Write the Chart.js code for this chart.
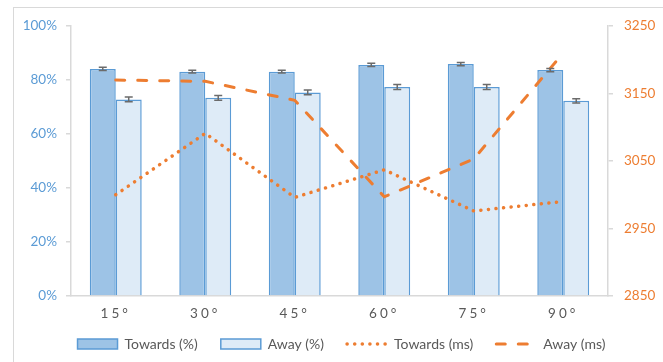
<html>
<head>
<script src="https://cdn.jsdelivr.net/npm/chart.js"></script>
</head>
<body style="margin:0;background:#fff">
<canvas id="myChart" width="663" height="362"></canvas>
<script>
  // angles on the x axis
  let categories = ['15°', '30°', '45°', '60°', '75°', '90°'];

  // percentages (left axis) with error bar half-widths
  let towardsPct = [84.1, 83.1, 83.1, 85.6, 85.9, 83.7];
  let awayPct    = [72.8, 73.4, 75.4, 77.4, 77.4, 72.3];
  let towardsErr = [0.6, 0.5, 0.5, 0.6, 0.6, 0.6];
  let awayErr    = [0.9, 0.9, 0.9, 0.9, 0.9, 0.8];

  // response times (right axis)
  let towardsMs = [3000, 3091, 2996, 3037, 2976, 2990];
  let awayMs    = [3170, 3168, 3140, 2997, 3053, 3210];

  let blue = '#5B9BD5';
  let orange = '#ED7D31';
  let font = {family: 'Lato', size: 13.5};

  // light grey frame around the chart
  const frame = {
    id: 'frame',
    beforeDraw(chart) {
      const ctx = chart.ctx;
      ctx.save();
      ctx.fillStyle = '#fff';
      ctx.fillRect(0, 0, chart.width, chart.height);
      ctx.strokeStyle = '#d9d9d9';
      ctx.lineWidth = 1;
      ctx.strokeRect(13.5, 7.5, 700, 400);
      ctx.restore();

      // spaced out x labels, not clipped to the (short) axis box
      const sx = chart.scales.x;
      if (sx && !sx._spaced) {
        const orig = sx.drawLabels;
        sx.drawLabels = function (area) {
          let b = this.bottom;
          this.bottom = chart.height;
          this.ctx.save();
          this.ctx.letterSpacing = '3px';
          orig.call(this, area);
          this.ctx.restore();
          this.bottom = b;
        };
        sx._spaced = true;
      }
    }
  };

  const errorBars = {
    id: 'errorBars',
    afterDatasetsDraw(chart) {
      const ctx = chart.ctx;
      const y = chart.scales.y;
      [[0, towardsErr], [1, awayErr]].forEach(function (p) {
        let vals = chart.data.datasets[p[0]].data;
        let errs = p[1];
        chart.getDatasetMeta(p[0]).data.forEach(function (bar, j) {
          let top = y.getPixelForValue(vals[j] + errs[j]);
          let bot = y.getPixelForValue(vals[j] - errs[j]);
          ctx.save();
          ctx.strokeStyle = '#6b6b6b';
          ctx.lineWidth = 1.5;
          ctx.beginPath();
          ctx.moveTo(bar.x, top); ctx.lineTo(bar.x, bot);
          ctx.moveTo(bar.x - 4, top); ctx.lineTo(bar.x + 4, top);
          ctx.moveTo(bar.x - 4, bot); ctx.lineTo(bar.x + 4, bot);
          ctx.stroke();
          ctx.restore();
        });
      });
    }
  };

  const ctx = document.getElementById('myChart');
  var chart = new Chart(ctx, {
    data: {
      labels: categories,
      datasets: [
        {
          type: 'bar', label: 'Towards (%)', data: towardsPct, yAxisID: 'y',
          backgroundColor: '#9DC3E6', borderColor: blue, borderWidth: 1.5,
          categoryPercentage: 0.58, barPercentage: 1, order: 2, pointStyle: 'rect'
        },
        {
          type: 'bar', label: 'Away (%)', data: awayPct, yAxisID: 'y',
          backgroundColor: '#DEEBF7', borderColor: blue, borderWidth: 1.5,
          categoryPercentage: 0.58, barPercentage: 1, order: 2, pointStyle: 'rect'
        },
        {
          type: 'line', label: 'Towards (ms)', data: towardsMs, yAxisID: 'y1',
          borderColor: orange, backgroundColor: orange, borderWidth: 3.5,
          borderDash: [0.1, 7.5], borderCapStyle: 'round', pointRadius: 0,
          order: 1, pointStyle: 'line'
        },
        {
          type: 'line', label: 'Away (ms)', data: awayMs, yAxisID: 'y1',
          borderColor: orange, backgroundColor: orange, borderWidth: 3,
          borderDash: [9, 13], borderCapStyle: 'round', pointRadius: 0,
          order: 1, pointStyle: 'line'
        }
      ]
    },
    options: {
      responsive: false,
      animation: false,
      devicePixelRatio: 1,
      layout: {padding: {top: 26, bottom: 1, left: 20, right: 0}},
      plugins: {
        legend: {
          position: 'bottom',
          labels: {
            usePointStyle: true,
            pointStyleWidth: 40,
            boxHeight: 10,
            padding: 23,
            color: '#595959',
            font: {family: 'Lato', size: 14},
            generateLabels: function (chart) {
              return chart.data.datasets.map(function (ds, i) {
                return {
                  text: ds.label,
                  datasetIndex: i,
                  fillStyle: ds.backgroundColor,
                  strokeStyle: ds.borderColor,
                  lineWidth: ds.borderWidth,
                  lineDash: ds.borderDash || [],
                  lineCap: ds.borderCapStyle || 'butt',
                  pointStyle: ds.pointStyle,
                  fontColor: '#595959',
                  hidden: false
                };
              });
            }
          }
        },
        tooltip: {enabled: false}
      },
      scales: {
        x: {
          grid: {display: false},
          border: {display: true, color: '#d9d9d9', width: 1.5},
          ticks: {color: '#595959', font: font, padding: 2},
          afterFit: function (s) { s.height = 18; }
        },
        y: {
          position: 'left',
          min: 0, max: 100,
          grid: {drawOnChartArea: false, drawTicks: true, tickLength: 5, color: '#d9d9d9', lineWidth: 1.5},
          border: {display: true, color: '#d9d9d9', width: 1.5},
          ticks: {
            stepSize: 20, color: blue, font: font, padding: 9,
            callback: function (v) { return v + '%'; }
          },
          afterFit: function (s) { s.width = 51; }
        },
        y1: {
          position: 'right',
          min: 2850, max: 3250,
          grid: {drawOnChartArea: false, drawTicks: true, tickLength: 5, color: '#d9d9d9', lineWidth: 1.5},
          border: {display: true, color: '#d9d9d9', width: 1.5},
          ticks: {
            stepSize: 100, color: orange, font: font, padding: 11,
            callback: function (v) { return String(v); }
          },
          afterFit: function (s) { s.width = 55; }
        }
      }
    },
    plugins: [frame, errorBars]
  });
</script>
</body>
</html>
